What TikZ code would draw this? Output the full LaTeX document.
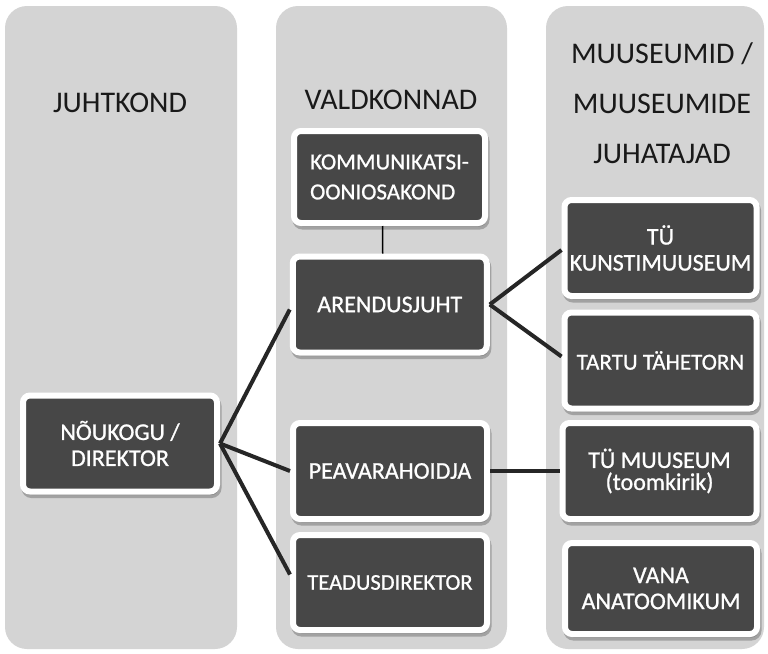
\documentclass[tikz,border=0pt]{standalone}
\usepackage{fontspec}
\setmainfont{Carlito}
\newfontfamily\boxfont{Carlito}[FakeBold=0.9]
\usetikzlibrary{shadows}
\definecolor{colbg}{HTML}{D4D4D4}
\definecolor{boxdark}{HTML}{474747}
\definecolor{linedark}{HTML}{262626}
\begin{document}
\begin{tikzpicture}[x=1pt,y=-1pt,
  column/.style={fill=colbg, rounded corners=22pt},
  header/.style={font=\fontsize{30}{50}\selectfont, text=black!90, align=center, inner sep=0pt},
  unit/.style={rectangle, rounded corners=7pt, fill=boxdark, draw=white, line width=6pt,
    text=white, font=\boxfont\fontsize{24}{26}\selectfont, align=center, inner sep=0pt,
    minimum width=194pt, minimum height=96pt,
    drop shadow={shadow xshift=1.5pt, shadow yshift=-3.5pt, fill=black!60, draw=black!60, line width=6pt, opacity=0.45}},
  link/.style={draw=linedark, line width=4pt},
  thinlink/.style={draw=black, line width=1.5pt}]
\fill[white] (0,0) rectangle (768,653);
\useasboundingbox (0,0) rectangle (768,653);
% columns
\fill[column] (5,6) rectangle (237,649);
\fill[column] (276,6) rectangle (507,649);
\fill[column] (546,6) rectangle (764,649);
% headers
\node[header] (h1) at (120,103) {JUHTKOND};
\node[header] (h2) at (391,100) {VALDKONNAD};
\node[header] (h3) at (662,103) {MUUSEUMID /\\MUUSEUMIDE\\JUHATAJAD};
% boxes
\node[unit, align=left, font=\boxfont\fontsize{23}{30}\selectfont, minimum width=191pt, minimum height=92pt] (komm) at (389.5,177) {KOMMUNIKATSI-\\OONIOSAKOND};
\node[unit] (arend) at (389.75,304.5) {ARENDUSJUHT};
\node[unit] (peav) at (390,471) {PEAVARAHOIDJA};
\node[unit, minimum height=95pt, font=\boxfont\fontsize{22.5}{26}\selectfont] (tead) at (390,582.5) {TEADUSDIREKTOR};
\node[unit] (nouk) at (120,443.5) {NÕUKOGU /\\DIREKTOR};
\node[unit, minimum width=192pt] (kunst) at (660.5,248) {TÜ\\KUNSTIMUUSEUM};
\node[unit, minimum width=192pt, font=\boxfont\fontsize{23}{26}\selectfont] (tahe) at (660.5,360.5) {TARTU TÄHETORN};
\node[unit, minimum width=194pt, font=\boxfont\fontsize{24}{22}\selectfont] (tumu) at (659.5,471) {TÜ MUUSEUM\\(toomkirik)};
\node[unit, minimum width=192pt, minimum height=91pt] (vana) at (661,588.5) {VANA\\ANATOOMIKUM};
% connectors
\draw[thinlink] ([xshift=-7pt]komm.south) -- ([xshift=-7pt]arend.north);
\draw[link] (nouk.east) -- ([yshift=-5pt]arend.west);
\draw[link] (nouk.east) -- (peav.west);
\draw[link] (nouk.east) -- ([yshift=8pt]tead.west);
\draw[link] (arend.east) -- ([yshift=-2pt]kunst.west);
\draw[link] (arend.east) -- ([yshift=4pt]tahe.west);
\draw[link] (peav.east) -- (tumu.west);
\end{tikzpicture}
\end{document}
